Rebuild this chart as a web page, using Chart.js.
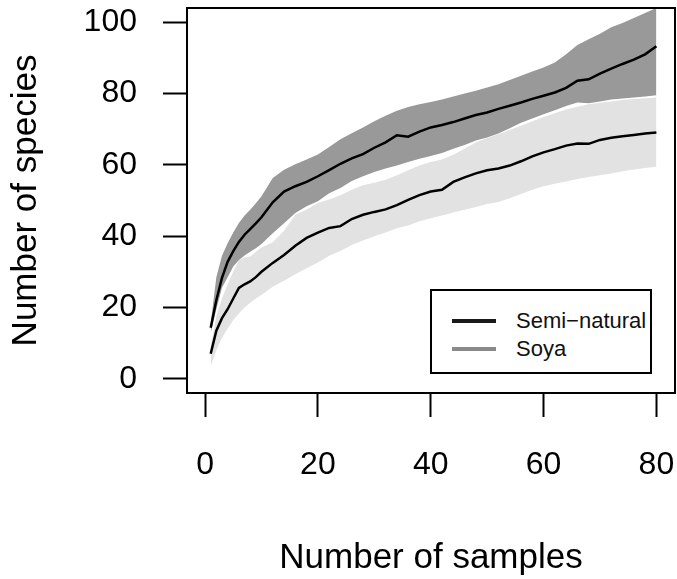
<!DOCTYPE html>
<html>
<head>
<meta charset="utf-8">
<script src="https://cdn.jsdelivr.net/npm/chart.js@4/dist/chart.umd.min.js"></script>
<style>
  html, body { margin: 0; padding: 0; background: #ffffff; }
  #wrap { position: relative; width: 677px; height: 579px; }
  #legend {
    position: absolute; left: 430px; top: 289px; width: 218px; height: 81px;
    border: 2px solid #000; background: #fff; box-sizing: content-box;
    font-family: "Liberation Sans", Arial, sans-serif; font-size: 22px; color: #111;
  }
  .lg-row { position: absolute; left: 0; height: 26px; width: 100%; }
  .lg-line { position: absolute; left: 20px; width: 44px; height: 4px; top: 11px; }
  .lg-text { position: absolute; left: 84px; top: 0; line-height: 26px; white-space: nowrap; }
</style>
</head>
<body>
<div id="wrap">
  <canvas id="c" width="677" height="579"></canvas>
  <div id="legend"></div>
</div>
<script>
// ---- data ----
const samples = [1,2,3,4,5,6,7,8,9,10,12,14,16,18,20,22,24,26,28,30,32,34,36,38,40,42,44,46,48,50,52,54,56,58,60,62,64,66,68,70,72,74,76,78,80];

const semiMean  = [14.3,22,28.3,32.8,35.8,38.4,40.4,42,43.6,45.3, 49.5,52.5,54,55.2,56.8,58.5,60.3,61.8,63,64.8, 66.3,68.3,67.9,69.3,70.5,71.2,72,73,74,74.7, 75.7,76.6,77.5,78.5,79.4,80.3,81.6,83.6,84,85.6, 87,88.3,89.5,91,93.3];
const semiUpper = [15.5,28.5,34.5,38,41,43.7,45.8,47.4,49.2,51.2, 56.3,58.6,60.2,61.5,62.9,65,67.2,68.9,70.5,72.2, 73.8,75.2,76.2,77,77.6,78.3,79.2,80,80.8,81.7, 82.6,83.8,85,86.2,87.3,88.7,91,93.6,95.2,96.8, 98.6,99.8,101.2,102.6,104];
const semiLower = [12.8,19.5,25.5,28.5,31.5,33.3,34.6,35.6,36.6,37.8, 40.8,43.6,46.5,48.4,49.8,52,53.5,55.5,56.8,58, 59,59.8,60.8,61.7,62.5,63.3,64.5,65.6,66.8,67.7, 68.8,70.3,71.8,73,74.2,75.3,76.5,77.5,77.3,77.8, 78.3,78.6,78.9,79.2,79.5];

const soyaMean  = [7,13.5,17,19.5,22.5,25.5,26.5,27.3,28.5,30, 32.5,34.7,37.3,39.5,41,42.3,42.8,44.8,46,46.8, 47.5,48.7,50.2,51.5,52.5,53,55.2,56.5,57.6,58.5, 59,59.8,61,62.4,63.5,64.4,65.4,66,65.9,67, 67.6,68,68.4,68.8,69.1];
const soyaUpper = [9,17.5,22.5,26.5,30,33.3,34,34.3,35.6,36.8, 38.3,41.5,46,47.5,49.3,50.3,51.5,53,54.3,55, 55.8,57.1,58.5,59.8,60.8,61.5,62.8,64.5,66.3,67.5, 68.6,69.8,71,72.2,73.4,74.5,75.5,76.3,77,77.4, 77.8,78.2,78.5,78.7,78.9];
const soyaLower = [3.5,8,11.5,14,16.5,18.3,20,21.3,22.5,23.5, 25.8,27.5,29.3,31,32.6,34.5,35.8,37.5,38.8,40, 41,42.2,43,44.2,45,45.8,46.6,47.4,48.2,49, 49.6,50.6,51.8,53,54,54.7,55.3,56,56.6,57.1, 57.6,58.2,58.7,59.1,59.5];

const xTicks = [0,20,40,60,80];
const yTicks = [0,20,40,60,80,100];
const seriesNames = ["Semi\u2212natural", "Soya"];
const xTitle = "Number of samples";
const yTitle = "Number of species";

// ---- build ----
const pts = arr => samples.map((x, i) => ({x: x, y: arr[i]}));
const FONT = '"Liberation Sans", Arial, Helvetica, sans-serif';
const DARK = '#999999', LIGHT = '#e2e2e2';

const band = (arr, color, fill, order) => ({
  data: pts(arr), borderWidth: 0, pointRadius: 0, borderColor: 'rgba(0,0,0,0)',
  backgroundColor: color, fill: fill, order: order, tension: 0
});

const datasets = [
  band(soyaLower, LIGHT, false, 3),
  band(soyaUpper, LIGHT, '-1', 3),
  band(semiLower, DARK, false, 2),
  band(semiUpper, DARK, '-1', 2),
  { label: seriesNames[1], data: pts(soyaMean), borderColor: '#000', borderWidth: 2.5, pointRadius: 0, fill: false, order: 1, tension: 0 },
  { label: seriesNames[0], data: pts(semiMean), borderColor: '#000', borderWidth: 2.5, pointRadius: 0, fill: false, order: 0, tension: 0 }
];

const boxPlugin = {
  id: 'box',
  afterDraw(chart) {
    const {ctx, chartArea: a} = chart;
    ctx.save();
    ctx.strokeStyle = '#000';
    ctx.lineWidth = 2;
    ctx.strokeRect(a.left, a.top, a.right - a.left, a.bottom - a.top);
    ctx.restore();
  }
};

new Chart(document.getElementById('c'), {
  type: 'line',
  data: { datasets },
  plugins: [boxPlugin],
  options: {
    responsive: false,
    animation: false,
    devicePixelRatio: 1,
    layout: { padding: { top: 8, right: 2, left: 0, bottom: 0 } },
    plugins: { legend: { display: false }, tooltip: { enabled: false } },
    scales: {
      x: {
        type: 'linear', min: -3.2, max: 83.3,
        afterBuildTicks: s => { s.ticks = xTicks.map(v => ({value: v})); },
        afterFit: s => { s.height = 186; s.paddingLeft = 0; s.paddingRight = 0; },
        grid: { drawOnChartArea: false, drawTicks: true, tickLength: 24, tickWidth: 2, tickColor: '#000' },
        border: { display: false },
        ticks: { color: '#000', padding: 29, font: { family: FONT, size: 32 }, maxRotation: 0, autoSkip: false },
        title: { display: true, text: xTitle, color: '#000', font: { family: FONT, size: 35 }, padding: { top: 0, bottom: 0 } }
      },
      y: {
        type: 'linear', min: -4, max: 104,
        afterBuildTicks: s => { s.ticks = yTicks.map(v => ({value: v})); },
        afterFit: s => { s.width = 187; s.paddingTop = 0; s.paddingBottom = 0; },
        grid: { drawOnChartArea: false, drawTicks: true, tickLength: 24, tickWidth: 2, tickColor: '#000' },
        border: { display: false },
        ticks: { color: '#000', padding: 26, font: { family: FONT, size: 32 }, autoSkip: false },
        title: { display: true, text: yTitle, color: '#000', font: { family: FONT, size: 35 }, padding: { top: 5, bottom: 0 } }
      }
    }
  }
});

// legend (HTML)
const legendItems = [
  { name: seriesNames[0], color: '#1a1a1a', top: 17 },
  { name: seriesNames[1], color: '#8a8a8a', top: 45 }
];
const lg = document.getElementById('legend');
legendItems.forEach(it => {
  const row = document.createElement('div');
  row.className = 'lg-row';
  row.style.top = it.top + 'px';
  const ln = document.createElement('div');
  ln.className = 'lg-line';
  ln.style.background = it.color;
  const tx = document.createElement('div');
  tx.className = 'lg-text';
  tx.textContent = it.name;
  row.appendChild(ln); row.appendChild(tx);
  lg.appendChild(row);
});
</script>
</body>
</html>
